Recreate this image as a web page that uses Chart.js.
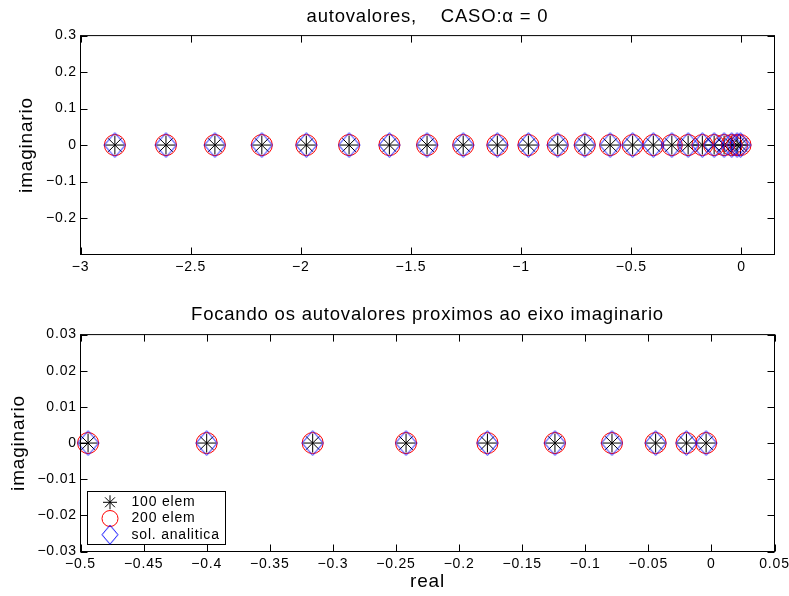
<!DOCTYPE html>
<html>
<head>
<meta charset="utf-8">
<script src="https://cdn.jsdelivr.net/npm/chart.js@4/dist/chart.umd.min.js"></script>
<style>
  html, body { margin: 0; padding: 0; background: #fff; }
  #quadro { position: relative; width: 789px; height: 596px; }
  .painel { position: absolute; left: 0; width: 789px; height: 298px; }
  #painel1 { top: 0; }
  #painel2 { top: 298px; }
</style>
</head>
<body>
<div id="quadro">
  <div class="painel" id="painel1"><canvas id="grafico1" width="789" height="298"></canvas></div>
  <div class="painel" id="painel2"><canvas id="grafico2" width="789" height="298"></canvas></div>
</div>
<script>
// Real parts of the eigenvalues, case alpha = 0 (all imaginary parts are zero)
const autovalores100 = [-2.844, -2.612, -2.390, -2.177, -1.975, -1.781, -1.598, -1.427, -1.263, -1.108,
  -0.967, -0.834, -0.711, -0.596, -0.494, -0.400, -0.316, -0.242, -0.1775, -0.124,
  -0.0788, -0.0442, -0.0198, -0.0042];
const autovalores200 = [-2.844, -2.612, -2.390, -2.177, -1.975, -1.781, -1.598, -1.427, -1.263, -1.108,
  -0.967, -0.834, -0.711, -0.596, -0.494, -0.400, -0.316, -0.242, -0.1775, -0.124,
  -0.0788, -0.0442, -0.0198, -0.0042];
const autovaloresAnaliticos = [-2.844, -2.612, -2.390, -2.177, -1.975, -1.781, -1.598, -1.427, -1.263, -1.108,
  -0.967, -0.834, -0.711, -0.596, -0.494, -0.400, -0.316, -0.242, -0.1775, -0.124,
  -0.0788, -0.0442, -0.0198, -0.0042];
const parteImaginaria = 0;

const legendas = ['100 elem', '200 elem', 'sol. analitica'];

// tick values of both panels
const ticksXGeral = [-3, -2.5, -2, -1.5, -1, -0.5, 0];
const ticksYGeral = [-0.2, -0.1, 0, 0.1, 0.2, 0.3];
const ticksXFoco = [-0.5, -0.45, -0.4, -0.35, -0.3, -0.25, -0.2, -0.15, -0.1, -0.05, 0, 0.05];
const ticksYFoco = [-0.03, -0.02, -0.01, 0, 0.01, 0.02, 0.03];

const FONTE = "'Liberation Sans', Arial, Helvetica, sans-serif";
const ESPACO_LETRAS = '0.8px';

Chart.defaults.font.family = FONTE;
Chart.defaults.color = '#000';

const formatar = v => String(v).replace('-', '\u2212');

// rhombus marker (a bit taller than wide)
function losango(meiaLargura, meiaAltura, cor) {
  const c = document.createElement('canvas');
  c.width = Math.ceil(meiaLargura * 2 + 2);
  c.height = Math.ceil(meiaAltura * 2 + 2);
  const g = c.getContext('2d');
  const cx = c.width / 2, cy = c.height / 2;
  g.strokeStyle = cor;
  g.lineWidth = 1;
  g.beginPath();
  g.moveTo(cx, cy - meiaAltura);
  g.lineTo(cx + meiaLargura, cy);
  g.lineTo(cx, cy + meiaAltura);
  g.lineTo(cx - meiaLargura, cy);
  g.closePath();
  g.stroke();
  return c;
}
const losangoGrafico = losango(10.5, 12.3, '#0000ff');
const losangoLegenda = losango(8, 9.5, '#0000ff');

// wider text tracking for every label drawn on the canvas
const espacamento = {
  id: 'espacamento',
  beforeDraw(chart) { chart.ctx.letterSpacing = ESPACO_LETRAS; }
};

// axes box with inward ticks on all four sides
const moldura = {
  id: 'moldura',
  afterDatasetsDraw(chart, args, opts) {
    const { ctx, chartArea: a, scales: { x, y } } = chart;
    const L = opts.comprimento || 7;
    ctx.save();
    ctx.strokeStyle = '#000';
    ctx.lineWidth = 1;
    ctx.strokeRect(a.left, a.top, a.right - a.left, a.bottom - a.top);
    ctx.beginPath();
    x.ticks.forEach(t => {
      const px = Math.round(x.getPixelForValue(t.value)) + 0.5;
      ctx.moveTo(px, a.bottom); ctx.lineTo(px, a.bottom - L);
      ctx.moveTo(px, a.top); ctx.lineTo(px, a.top + L);
    });
    y.ticks.forEach(t => {
      const py = Math.round(y.getPixelForValue(t.value)) + 0.5;
      ctx.moveTo(a.left, py); ctx.lineTo(a.left + L, py);
      ctx.moveTo(a.right, py); ctx.lineTo(a.right - L, py);
    });
    ctx.stroke();
    ctx.restore();
  }
};

// boxed legend in the lower-left corner of the plot area
const caixaLegenda = {
  id: 'caixaLegenda',
  afterDraw(chart, args, opts) {
    if (!opts.display) return;
    const { ctx, chartArea: a } = chart;
    const conjuntos = chart.data.datasets;
    ctx.save();
    ctx.letterSpacing = ESPACO_LETRAS;
    ctx.font = '14px ' + FONTE;
    const larguraTexto = Math.max(...conjuntos.map(d => ctx.measureText(d.label).width));
    const w = Math.round(44 + larguraTexto + 6);
    const h = 53;
    const x0 = a.left + 7, y0 = a.bottom - 7 - h;
    ctx.fillStyle = '#fff';
    ctx.fillRect(x0, y0, w, h);
    ctx.strokeStyle = '#000';
    ctx.lineWidth = 1;
    ctx.strokeRect(x0, y0, w, h);
    conjuntos.forEach((d, i) => {
      const cy = y0 + 10.8 + i * 16.2;
      const cx = x0 + 22.5;
      ctx.lineWidth = 1;
      if (d.pointStyle === 'star') {
        const r = 7;
        ctx.strokeStyle = d.pointBorderColor;
        ctx.beginPath();
        for (let k = 0; k < 4; k++) {
          const ang = k * Math.PI / 4;
          ctx.moveTo(cx - r * Math.cos(ang), cy - r * Math.sin(ang));
          ctx.lineTo(cx + r * Math.cos(ang), cy + r * Math.sin(ang));
        }
        ctx.stroke();
      } else if (d.pointStyle === 'circle') {
        ctx.strokeStyle = d.pointBorderColor;
        ctx.beginPath();
        ctx.arc(cx, cy, 8, 0, Math.PI * 2);
        ctx.stroke();
      } else {
        ctx.drawImage(losangoLegenda, cx - losangoLegenda.width / 2, cy - losangoLegenda.height / 2);
      }
      ctx.fillStyle = '#000';
      ctx.textAlign = 'left';
      ctx.textBaseline = 'middle';
      ctx.fillText(d.label, x0 + 44, cy);
    });
    ctx.restore();
  }
};

function conjuntos(limite) {
  const pontos = arr => arr.filter(v => v >= limite).map(v => ({ x: v, y: parteImaginaria }));
  const comum = { showLine: false, clip: false, pointBackgroundColor: 'rgba(0,0,0,0)', pointBorderWidth: 1 };
  return [
    Object.assign({}, comum, { label: legendas[0], data: pontos(autovalores100), pointStyle: 'star',
      pointRadius: 9.5, pointBorderColor: '#000000', order: 3 }),
    Object.assign({}, comum, { label: legendas[1], data: pontos(autovalores200), pointStyle: 'circle',
      pointRadius: 10.5, pointBorderColor: '#ff0000', order: 2 }),
    Object.assign({}, comum, { label: legendas[2], data: pontos(autovaloresAnaliticos), pointStyle: losangoGrafico,
      pointRadius: 11, pointBorderColor: '#0000ff', order: 1 })
  ];
}

function painel(canvasId, cfg) {
  return new Chart(document.getElementById(canvasId), {
    type: 'scatter',
    data: { datasets: conjuntos(cfg.xMin) },
    plugins: [espacamento, moldura, caixaLegenda],
    options: {
      responsive: false,
      animation: false,
      events: [],
      layout: { padding: { left: 0, right: 14.5, top: 0, bottom: 0 } },
      plugins: {
        legend: { display: false },
        tooltip: { enabled: false },
        title: {
          display: true,
          text: cfg.titulo,
          fullSize: false,
          color: '#000',
          font: { size: 18.5, weight: 'normal', family: FONTE },
          padding: { top: 5.4, bottom: cfg.tituloBaixo }
        },
        moldura: { comprimento: 7 },
        caixaLegenda: { display: cfg.legenda }
      },
      scales: {
        x: {
          type: 'linear',
          min: cfg.xMin, max: cfg.xMax,
          grid: { display: false, drawTicks: false, tickLength: 0 },
          border: { display: false },
          afterBuildTicks: s => { s.ticks = cfg.ticksX.map(v => ({ value: v })); },
          afterFit: s => { s.height = cfg.alturaX; s.paddingLeft = 0; s.paddingRight = 0; },
          ticks: { autoSkip: false, maxRotation: 0, minRotation: 0, padding: 4.6, color: '#000',
            font: { size: 14, family: FONTE }, callback: v => formatar(v) },
          title: { display: !!cfg.tituloX, text: cfg.tituloX || '', color: '#000',
            font: { size: 19, family: FONTE }, padding: { top: 0, bottom: 3.3 } }
        },
        y: {
          type: 'linear',
          min: cfg.yMin, max: cfg.yMax,
          grid: { display: false, drawTicks: false, tickLength: 0 },
          border: { display: false },
          afterBuildTicks: s => { s.ticks = cfg.ticksY.map(v => ({ value: v })); },
          afterFit: s => { s.width = 80.5; s.paddingTop = 0; s.paddingBottom = 0; },
          ticks: { autoSkip: false, padding: 3.7, color: '#000',
            font: { size: 14, family: FONTE }, callback: v => formatar(v) },
          title: { display: true, text: 'imaginario', color: '#000',
            font: { size: 19, family: FONTE }, padding: { top: cfg.offsetTituloY, bottom: 0 } }
        }
      }
    }
  });
}

painel('grafico1', {
  titulo: 'autovalores,    CASO:\u03b1 = 0',
  tituloBaixo: 8.0,
  xMin: -3, xMax: 0.15, yMin: -0.3, yMax: 0.3,
  ticksX: ticksXGeral, ticksY: ticksYGeral,
  alturaX: 43.5, offsetTituloY: 15, legenda: false
});

painel('grafico2', {
  titulo: 'Focando os autovalores proximos ao eixo imaginario',
  tituloBaixo: 9.0,
  xMin: -0.5, xMax: 0.05, yMin: -0.03, yMax: 0.03,
  ticksX: ticksXFoco, ticksY: ticksYFoco,
  alturaX: 44.5, tituloX: 'real', offsetTituloY: 7, legenda: true
});
</script>
</body>
</html>
